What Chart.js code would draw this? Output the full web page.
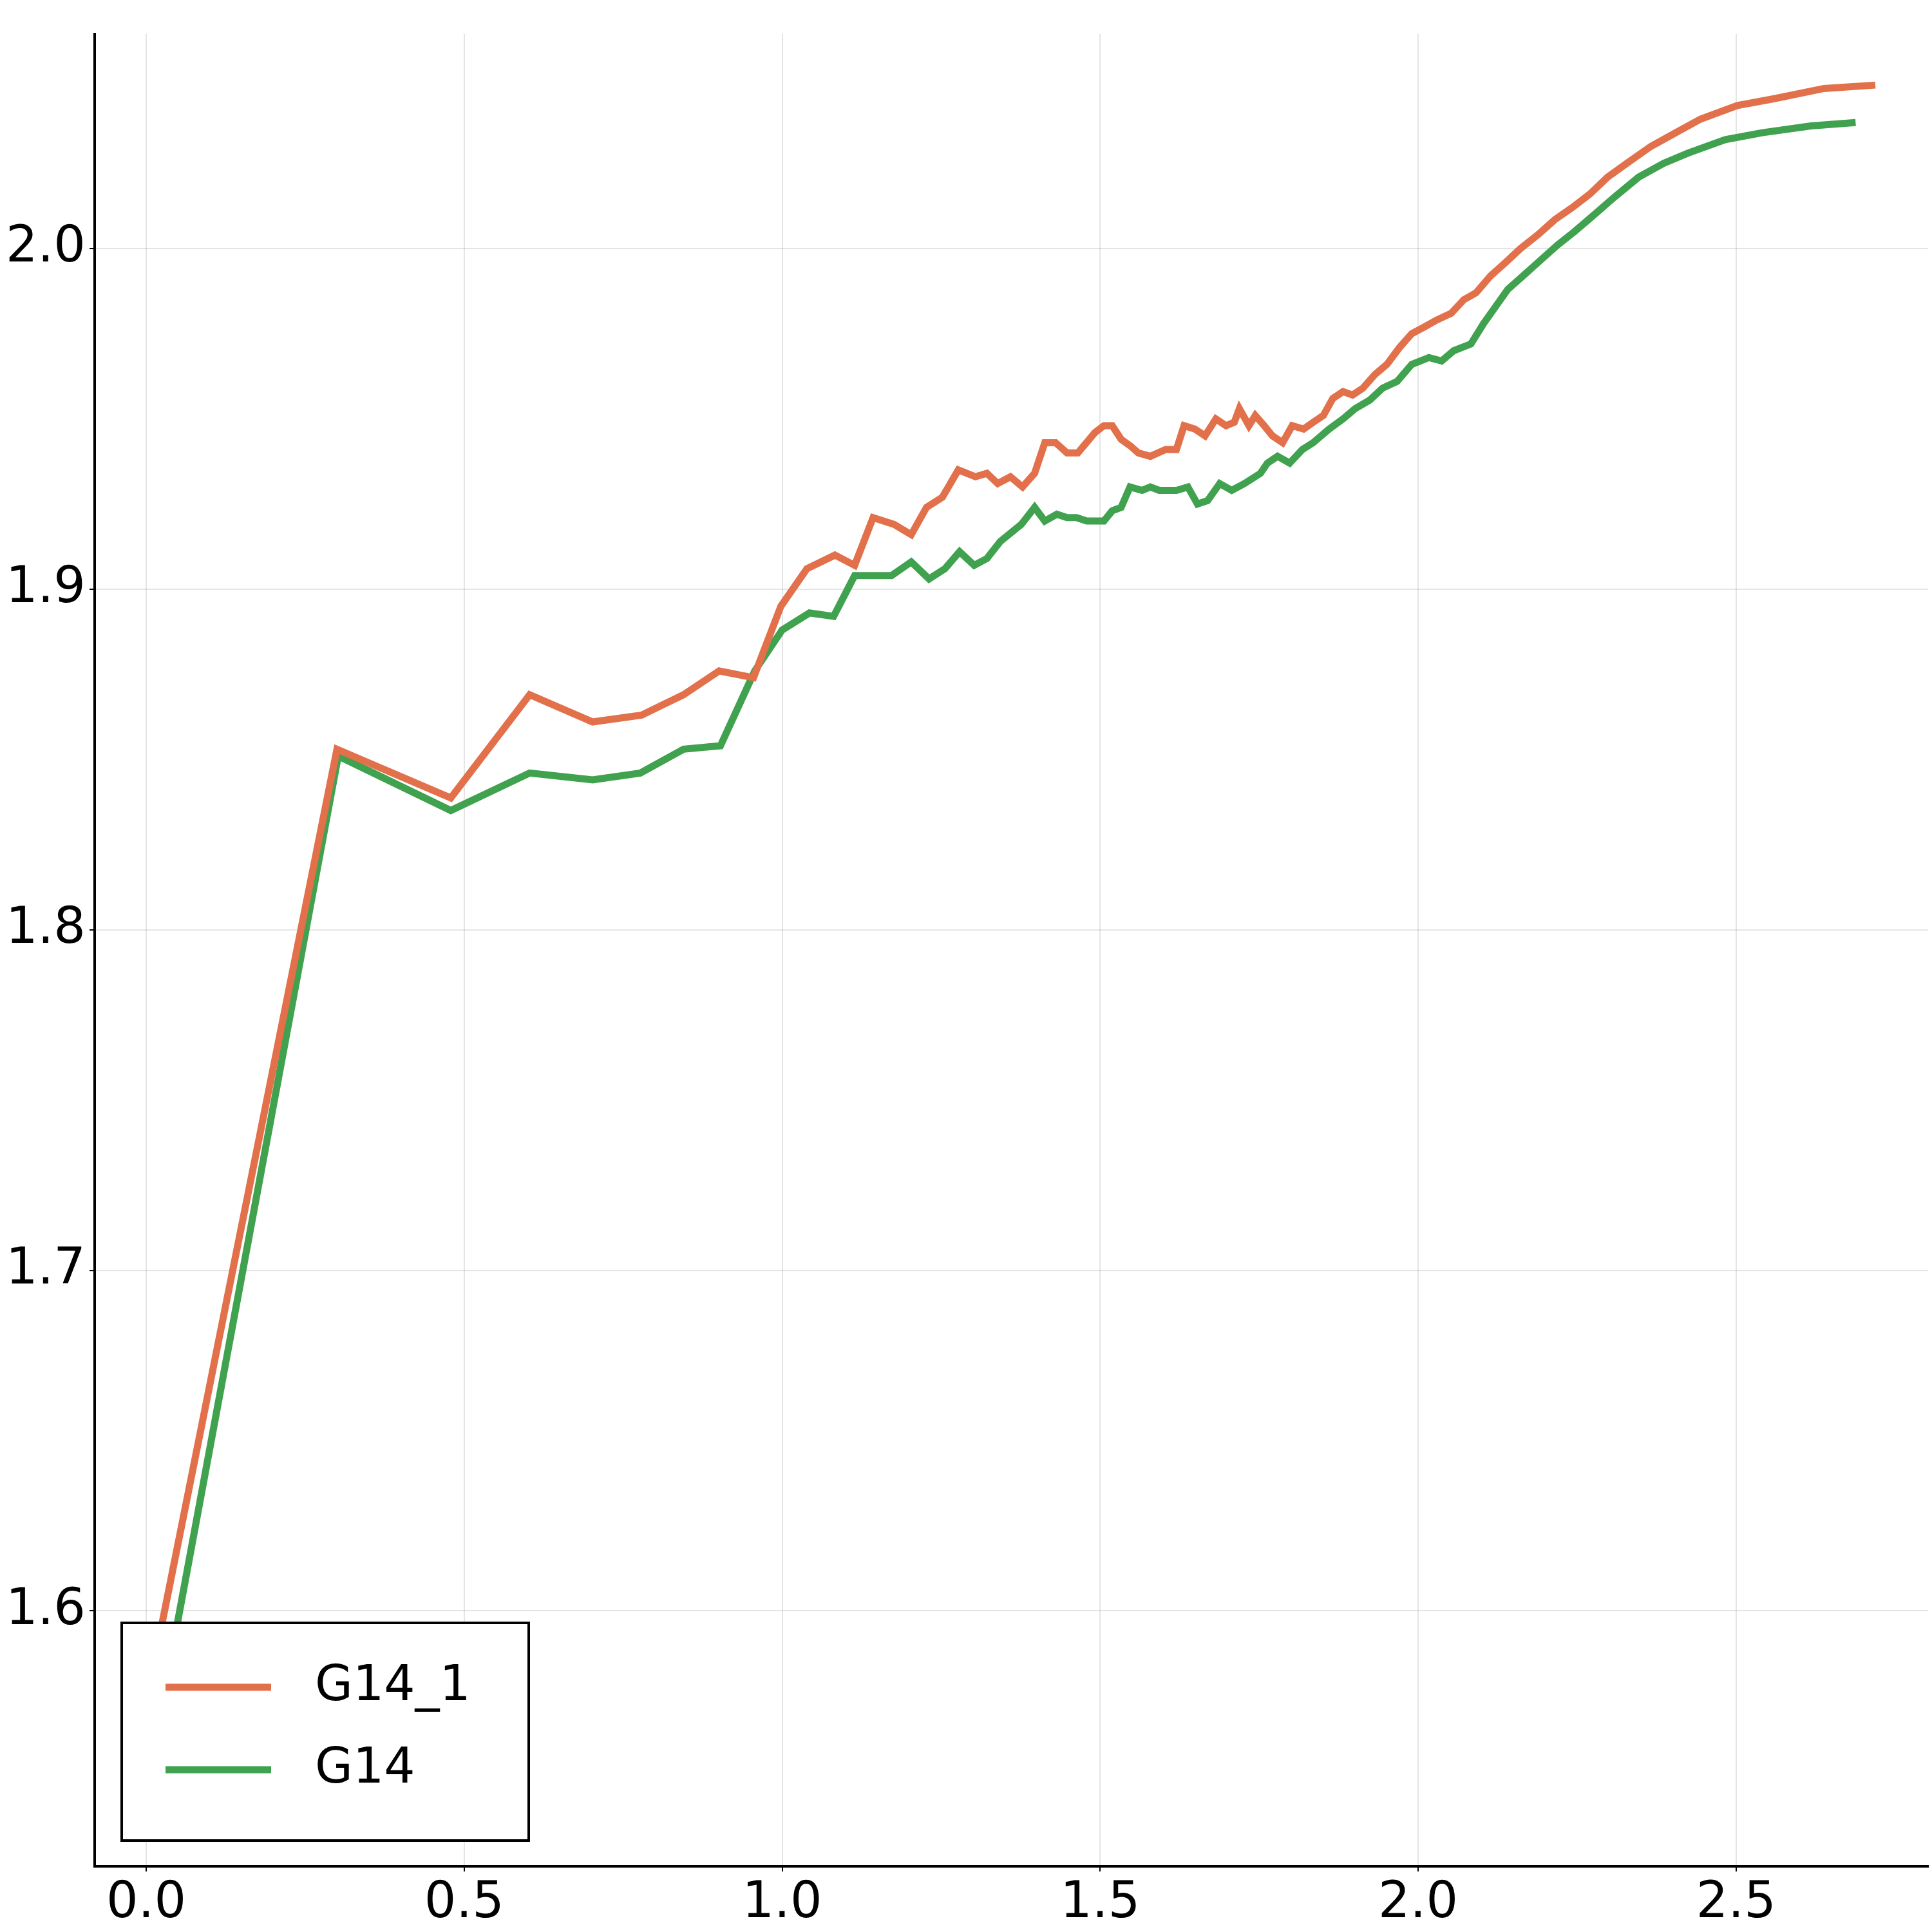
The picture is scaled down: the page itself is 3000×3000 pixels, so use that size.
<!DOCTYPE html>
<html>
<head>
<meta charset="utf-8">
<script src="https://cdn.jsdelivr.net/npm/chart.js@4"></script>
<style>
  html, body { margin: 0; padding: 0; background: #fff; }
  #wrap { width: 3000px; height: 3000px; }
</style>
</head>
<body>
<div id="wrap"><canvas id="chart" width="3000" height="3000"></canvas></div>
<script>
// data
const xTicks = [0.0, 0.5, 1.0, 1.5, 2.0, 2.5];
const yTicks = [1.6, 1.7, 1.8, 1.9, 2.0];

const g141X = [0, 0.300, 0.479, 0.603, 0.702, 0.779, 0.845, 0.901, 0.955, 0.998, 1.039, 1.083, 1.114, 1.143, 1.176, 1.203, 1.227, 1.252, 1.277, 1.304, 1.322, 1.339, 1.359, 1.378, 1.397, 1.413, 1.430, 1.448, 1.465, 1.492, 1.506, 1.519, 1.533, 1.548, 1.560, 1.579, 1.603, 1.620, 1.632, 1.649, 1.665, 1.682, 1.698, 1.711, 1.719, 1.734, 1.744, 1.758, 1.771, 1.787, 1.802, 1.820, 1.835, 1.851, 1.866, 1.882, 1.897, 1.913, 1.932, 1.951, 1.971, 1.990, 2.010, 2.029, 2.052, 2.072, 2.091, 2.114, 2.138, 2.161, 2.188, 2.215, 2.242, 2.270, 2.298, 2.328, 2.366, 2.405, 2.444, 2.502, 2.560, 2.638, 2.719];
const g141Y = [1.573, 1.853, 1.8387, 1.869, 1.861, 1.863, 1.869, 1.876, 1.874, 1.895, 1.906, 1.910, 1.907, 1.921, 1.919, 1.916, 1.924, 1.927, 1.935, 1.933, 1.934, 1.931, 1.933, 1.930, 1.934, 1.943, 1.943, 1.940, 1.940, 1.946, 1.948, 1.948, 1.944, 1.942, 1.940, 1.939, 1.941, 1.941, 1.948, 1.947, 1.945, 1.950, 1.948, 1.949, 1.953, 1.948, 1.951, 1.948, 1.945, 1.943, 1.948, 1.947, 1.949, 1.951, 1.956, 1.958, 1.957, 1.959, 1.963, 1.966, 1.971, 1.975, 1.977, 1.979, 1.981, 1.985, 1.987, 1.992, 1.996, 2.000, 2.004, 2.0085, 2.012, 2.016, 2.021, 2.025, 2.030, 2.034, 2.038, 2.042, 2.044, 2.047, 2.048];

const g14X = [0, 0.302, 0.479, 0.603, 0.702, 0.777, 0.845, 0.903, 0.957, 1.000, 1.043, 1.081, 1.114, 1.143, 1.172, 1.203, 1.231, 1.256, 1.279, 1.302, 1.322, 1.343, 1.376, 1.397, 1.413, 1.432, 1.448, 1.463, 1.479, 1.506, 1.519, 1.533, 1.547, 1.566, 1.579, 1.593, 1.620, 1.638, 1.653, 1.669, 1.688, 1.707, 1.727, 1.752, 1.763, 1.779, 1.798, 1.818, 1.835, 1.860, 1.882, 1.901, 1.924, 1.944, 1.967, 1.990, 2.017, 2.037, 2.056, 2.083, 2.103, 2.122, 2.141, 2.165, 2.192, 2.219, 2.246, 2.273, 2.308, 2.347, 2.386, 2.424, 2.483, 2.541, 2.618, 2.688];
const g14Y = [1.547, 1.851, 1.835, 1.846, 1.844, 1.846, 1.853, 1.854, 1.876, 1.888, 1.893, 1.892, 1.904, 1.904, 1.904, 1.908, 1.903, 1.906, 1.911, 1.907, 1.909, 1.914, 1.919, 1.924, 1.920, 1.922, 1.921, 1.921, 1.920, 1.920, 1.923, 1.924, 1.930, 1.929, 1.930, 1.929, 1.929, 1.930, 1.925, 1.926, 1.931, 1.929, 1.931, 1.934, 1.937, 1.939, 1.937, 1.941, 1.943, 1.947, 1.950, 1.953, 1.9555, 1.959, 1.961, 1.966, 1.968, 1.967, 1.970, 1.972, 1.978, 1.983, 1.988, 1.992, 1.9965, 2.001, 2.005, 2.0093, 2.015, 2.021, 2.025, 2.028, 2.032, 2.034, 2.036, 2.037];

const seriesNames = ["G14_1", "G14"];
const seriesColors = ["#e2704a", "#40a24f"];

const toPoints = (xs, ys) => xs.map((x, i) => ({ x: x, y: ys[i] }));

const FONT = "DejaVu Sans";

// legend box drawn by hand, bottom-left inside the plot
const legendBox = {
    id: "legendBox",
    afterDraw(chart) {
        const c = chart.ctx;
        const x0 = 189, y0 = 2520, w = 632, h = 338;
        c.save();
        c.fillStyle = "#fff";
        c.fillRect(x0, y0, w, h);
        c.strokeStyle = "#000";
        c.lineWidth = 4;
        c.strokeRect(x0, y0, w, h);
        c.font = "76px '" + FONT + "'";
        c.textBaseline = "middle";
        seriesNames.forEach((name, i) => {
            const cy = y0 + 100 + i * 128;
            c.strokeStyle = seriesColors[i];
            c.lineWidth = 11;
            c.beginPath();
            c.moveTo(x0 + 68, cy);
            c.lineTo(x0 + 232, cy);
            c.stroke();
            c.fillStyle = "#000";
            c.fillText(name, x0 + 300, cy);
        });
        c.restore();
    }
};

const ctx = document.getElementById("chart").getContext("2d");
new Chart(ctx, {
    type: "line",
    data: {
        datasets: [
            { label: seriesNames[0], data: toPoints(g141X, g141Y), borderColor: seriesColors[0], borderWidth: 11, pointRadius: 0, tension: 0, fill: false },
            { label: seriesNames[1], data: toPoints(g14X, g14Y), borderColor: seriesColors[1], borderWidth: 11, pointRadius: 0, tension: 0, fill: false }
        ]
    },
    options: {
        responsive: false,
        animation: false,
        layout: { padding: { top: 6, right: 6, left: 0, bottom: 0 } },
        plugins: { legend: { display: false }, tooltip: { enabled: false } },
        scales: {
            x: {
                type: "linear",
                min: -0.081,
                max: 2.802,
                afterBuildTicks: (s) => { s.ticks = xTicks.map(v => ({ value: v })); },
                afterFit: (s) => { s.height = 102; },
                ticks: { color: "#000", font: { family: FONT, size: 78 }, padding: 4, callback: (v) => v.toFixed(1) },
                grid: { color: "rgba(0,0,0,0.1)", lineWidth: 2, tickLength: 8, tickColor: "#000" },
                border: { color: "#000", width: 4 }
            },
            y: {
                type: "linear",
                min: 1.525,
                max: 2.063,
                afterBuildTicks: (s) => { s.ticks = yTicks.map(v => ({ value: v })); },
                afterFit: (s) => { s.width = 147; },
                ticks: { color: "#000", font: { family: FONT, size: 78 }, padding: 6, callback: (v) => v.toFixed(1) },
                grid: { color: "rgba(0,0,0,0.1)", lineWidth: 2, tickLength: 8, tickColor: "#000" },
                border: { color: "#000", width: 4 }
            }
        }
    },
    plugins: [legendBox]
});
</script>
</body>
</html>
